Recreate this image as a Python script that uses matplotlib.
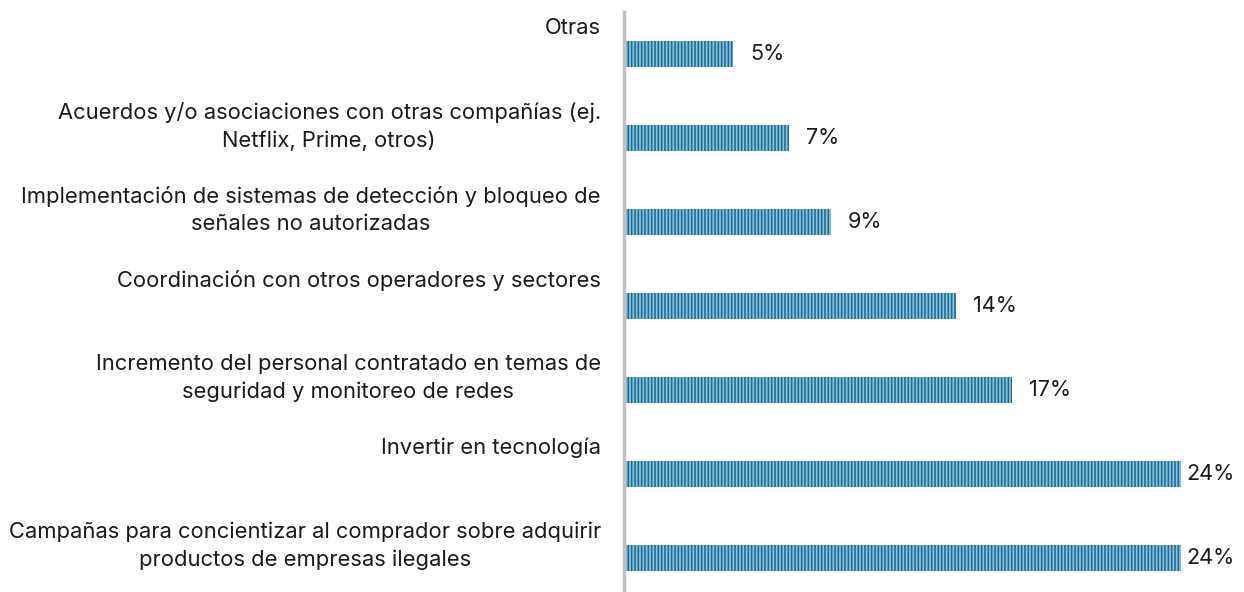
import matplotlib
matplotlib.use("Agg")
import matplotlib.pyplot as plt

# data (top to bottom)
categories = [
    "Otras",
    "Acuerdos y/o asociaciones con otras compañías (ej.\nNetflix, Prime, otros)",
    "Implementación de sistemas de detección y bloqueo de\nseñales no autorizadas",
    "Coordinación con otros operadores y sectores",
    "Incremento del personal contratado en temas de\nseguridad y monitoreo de redes",
    "Invertir en tecnología",
    "Campañas para concientizar al comprador sobre adquirir\nproductos de empresas ilegales",
]
values = [4.7, 7.1, 8.9, 14.3, 16.7, 24.0, 24.0]
value_labels = ["5%", "7%", "9%", "14%", "17%", "24%", "24%"]

plt.rcParams['font.family'] = ['Inter', 'DejaVu Sans']
plt.rcParams['hatch.linewidth'] = 1.15

fig = plt.figure(figsize=(12.44, 5.92), dpi=100)
ax = fig.add_axes([624 / 1244, -8 / 592, 620 / 1244, 588 / 592])

ypos = list(range(len(values)))
ax.barh(ypos, values, height=0.31, color="#8cc4de", edgecolor="#1b6790",
        hatch="|||||", linewidth=0, zorder=2)

for y, v, lab, cat in zip(ypos, values, value_labels, categories):
    ax.text(min(v + 0.73, 24.2), y, lab, va="center", ha="left",
            fontsize=15.6, color="#1a1a1a")
    ax.text(-1.0, y - 0.43, cat, va="top", ha="right", multialignment="center",
            fontsize=15.8, color="#1a1a1a", linespacing=1.45)

ax.set_ylim(6.5, -0.5)
ax.set_xlim(0, 26.7)
ax.set_xticks([])
ax.set_yticks([])
for s in ["top", "right", "bottom"]:
    ax.spines[s].set_visible(False)
ax.spines["left"].set_color("#bfbfbf")
ax.spines["left"].set_linewidth(2.5)
ax.spines["left"].set_zorder(3)

fig.savefig("out.png", dpi=100)
